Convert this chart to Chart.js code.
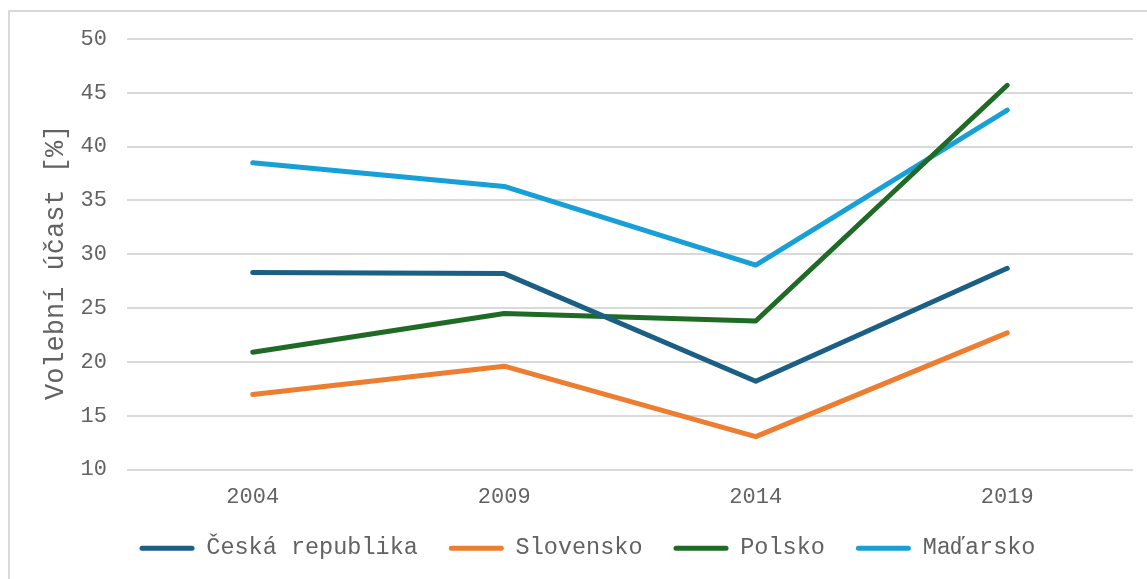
<!DOCTYPE html>
<html>
<head>
<meta charset="utf-8">
<script src="https://cdn.jsdelivr.net/npm/chart.js@4"></script>
<style>
  html,body{margin:0;padding:0;background:#fff;overflow:hidden}
  #wrap{position:absolute;left:0;top:0;width:1147px;height:579px}
  #frame{position:absolute;left:8px;top:10px;width:1160px;height:600px;border:2px solid #d9d9d9;box-sizing:border-box}
</style>
</head>
<body>
<div id="frame"></div>
<div id="wrap"><canvas id="c"></canvas></div>
<script>
/* ===== data ===== */
const years=["2004","2009","2014","2019"];
const cesko=[28.3,28.2,18.2,28.7];
const slovensko=[16.97,19.6,13.05,22.7];
const polsko=[20.9,24.5,23.8,45.7];
const madarsko=[38.5,36.3,29.0,43.4];

const FONT="'Liberation Mono','Courier New',monospace";
const TXT="#626262";

const ds=(label,data,color)=>({
  label,data,borderColor:color,backgroundColor:color,borderWidth:5,
  borderCapStyle:"round",borderJoinStyle:"round",pointRadius:0,pointHoverRadius:0,tension:0,fill:false
});

// move legend: a bit right and up, so it sits like the reference
const legendShift={
  id:"legendShift",
  afterLayout(chart){ const l=chart.legend; if(l){ l.left+=6; l.right+=6; l.top-=3.5; l.bottom-=3.5; } }
};

new Chart(document.getElementById("c"),{
  type:"line",
  data:{
    labels:years,
    datasets:[
      ds("Česká republika",cesko,"#1c5f85"),
      ds("Slovensko",slovensko,"#ed7d31"),
      ds("Polsko",polsko,"#1f6b25"),
      ds("Maďarsko",madarsko,"#17a0d8")
    ]
  },
  plugins:[legendShift],
  options:{
    responsive:true,maintainAspectRatio:false,animation:false,
    layout:{padding:{left:30,right:14,top:39,bottom:5.5}},
    plugins:{
      tooltip:{enabled:false},
      legend:{
        position:"bottom",
        labels:{
          color:TXT,font:{family:FONT,size:23.5},boxWidth:55,boxHeight:5,padding:31,
          useBorderRadius:true,borderRadius:2.5,
          generateLabels(chart){
            return chart.data.datasets.map((d,i)=>({
              text:d.label,fillStyle:d.borderColor,strokeStyle:d.borderColor,lineWidth:0,
              fontColor:TXT,hidden:false,datasetIndex:i,borderRadius:2.5
            }));
          }
        }
      }
    },
    scales:{
      x:{
        offset:true,
        grid:{display:false},
        border:{display:false},
        ticks:{color:TXT,font:{family:FONT,size:22},padding:6,maxRotation:0},
        afterFit(s){ s.height=39.5; }
      },
      y:{
        min:10,max:50,
        ticks:{stepSize:5,color:TXT,font:{family:FONT,size:22},padding:20},
        grid:{color:"#d9d9d9",lineWidth:2,drawTicks:false},
        border:{display:false},
        title:{display:true,text:"Volební účast [%] ",color:TXT,font:{family:FONT,size:27},padding:{top:10,bottom:0}},
        afterFit(s){ s.width=97; }
      }
    }
  }
});
</script>
</body>
</html>
